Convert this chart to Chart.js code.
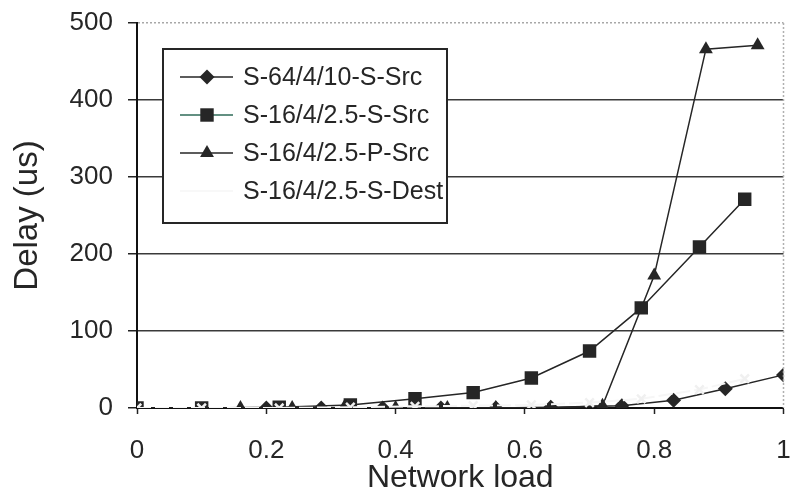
<!DOCTYPE html>
<html>
<head>
<meta charset="utf-8">
<script src="https://cdn.jsdelivr.net/npm/chart.js@4/dist/chart.umd.min.js"></script>
<style>
  html, body { margin: 0; padding: 0; background: #fff; }
  #wrap { width: 793px; height: 495px; }
</style>
</head>
<body>
<div id="wrap"><canvas id="delay-chart" width="793" height="495"></canvas></div>
<script>
// series names
const seriesNames = ["S-64/4/10-S-Src", "S-16/4/2.5-S-Src", "S-16/4/2.5-P-Src", "S-16/4/2.5-S-Dest"];

// network load (x) and delay in us (y)
const loadA = [0.2, 0.285, 0.38, 0.47, 0.555, 0.64, 0.75, 0.83, 0.91, 1.0];
const delayA = [0, 0, 0, 0, 0, 1, 3, 10, 25, 43];

const loadB = [0, 0.1, 0.22, 0.33, 0.43, 0.52, 0.61, 0.70, 0.78, 0.87, 0.94];
const delayB = [0, 0, 1, 4, 12, 20, 39, 74, 130, 209, 271];

const loadC = [0.16, 0.24, 0.32, 0.40, 0.48, 0.555, 0.64, 0.72, 0.80, 0.88, 0.96];
const delayC = [0, 0, 0, 0, 0, 0, 0, 3, 172, 466, 471];

const loadD = [0, 0.1, 0.22, 0.33, 0.43, 0.52, 0.61, 0.70, 0.78, 0.87, 0.94];
const delayD = [0, 0, 0, 1, 2, 3, 4, 7, 12, 24, 38];

// tick labels
const yTicks = [0, 100, 200, 300, 400, 500];
const xTicks = [0, 0.2, 0.4, 0.6, 0.8, 1];

function pts(xs, ys) {
  return xs.map(function (x, i) { return { x: x, y: ys[i] }; });
}

const ink = '#262626';
const font = 'Liberation Sans, Arial, sans-serif';

function drawMarker(ctx, style, r, x, y, color) {
  ctx.save();
  ctx.fillStyle = color;
  ctx.beginPath();
  if (style === 'rectRot') {
    ctx.moveTo(x, y - r); ctx.lineTo(x + r, y); ctx.lineTo(x, y + r); ctx.lineTo(x - r, y);
    ctx.closePath(); ctx.fill();
  } else if (style === 'rect') {
    const s = r * Math.SQRT1_2;
    ctx.rect(x - s, y - s, 2 * s, 2 * s); ctx.fill();
  } else if (style === 'triangle') {
    const h = r * 1.5;
    ctx.moveTo(x, y - h * 2 / 3); ctx.lineTo(x + r * 0.87, y + h / 3); ctx.lineTo(x - r * 0.87, y + h / 3);
    ctx.closePath(); ctx.fill();
  }
  ctx.restore();
}

// legend box drawn inside the plot, plus the dotted right frame
const boxLegend = {
  id: 'boxLegend',
  afterDraw(chart) {
    const ctx = chart.ctx;
    const area = chart.chartArea;
    ctx.save();
    ctx.strokeStyle = '#b0b0b0';
    ctx.lineWidth = 1.5;
    ctx.setLineDash([2, 2]);
    ctx.beginPath();
    ctx.moveTo(area.right, area.top);
    ctx.lineTo(area.right, area.bottom);
    ctx.stroke();
    ctx.setLineDash([]);

    const bx = 163, by = 49, bw = 284, bh = 174;
    ctx.fillStyle = '#fff';
    ctx.fillRect(bx, by, bw, bh);
    ctx.strokeStyle = ink;
    ctx.lineWidth = 2;
    ctx.strokeRect(bx, by, bw, bh);

    ctx.font = '25px ' + font;
    ctx.textBaseline = 'middle';
    chart.data.datasets.forEach(function (ds, i) {
      const y = 77 + 38 * i;
      ctx.strokeStyle = ds.legendLine || ds.borderColor;
      ctx.lineWidth = 1.5;
      ctx.beginPath();
      ctx.moveTo(180, y);
      ctx.lineTo(233, y);
      ctx.stroke();
      drawMarker(ctx, ds.pointStyle, ds.pointRadius, 207, y, ds.pointBackgroundColor);
      ctx.fillStyle = ink;
      ctx.fillText(ds.label, 243, y + 1);
    });
    ctx.restore();
  }
};

new Chart(document.getElementById('delay-chart'), {
  type: 'scatter',
  data: {
    datasets: [
      {
        label: seriesNames[0],
        data: pts(loadA, delayA),
        showLine: true,
        borderColor: ink,
        borderWidth: 1.5,
        pointStyle: 'rectRot',
        pointRadius: 7.5,
        pointBackgroundColor: ink,
        pointBorderColor: ink,
        pointBorderWidth: 0,
        order: 1
      },
      {
        label: seriesNames[1],
        data: pts(loadB, delayB),
        showLine: true,
        borderColor: ink,
        legendLine: '#2f6b58',
        borderWidth: 1.5,
        pointStyle: 'rect',
        pointRadius: 9.5,
        pointBackgroundColor: ink,
        pointBorderColor: ink,
        pointBorderWidth: 0,
        order: 1
      },
      {
        label: seriesNames[2],
        data: pts(loadC, delayC),
        showLine: true,
        borderColor: ink,
        borderWidth: 1.5,
        pointStyle: 'triangle',
        pointRadius: 8,
        pointBackgroundColor: ink,
        pointBorderColor: ink,
        pointBorderWidth: 0,
        order: 1
      },
      {
        label: seriesNames[3],
        data: pts(loadD, delayD),
        showLine: true,
        borderColor: '#f6f6f6',
        borderWidth: 2,
        borderDash: [14, 4],
        pointStyle: 'crossRot',
        pointRadius: 6,
        pointBackgroundColor: '#f6f6f6',
        pointBorderColor: '#f0f0f0',
        pointBorderWidth: 2.5,
        order: 0
      }
    ]
  },
  options: {
    responsive: false,
    animation: false,
    layout: { padding: { left: 0, top: 23, right: 6, bottom: 0 } },
    elements: { line: { tension: 0 } },
    plugins: {
      legend: { display: false },
      tooltip: { enabled: false }
    },
    scales: {
      x: {
        type: 'linear',
        min: 0,
        max: 1,
        afterFit(scale) {
          scale.height = 87;
          scale.paddingLeft = 0; scale.paddingRight = 0;
        },
        afterBuildTicks(scale) { scale.ticks = xTicks.map(function (v) { return { value: v }; }); },
        border: { display: true, color: '#111', width: 2 },
        grid: { display: true, drawOnChartArea: false, drawTicks: true, tickLength: 6, tickColor: '#222', tickWidth: 1.5 },
        ticks: {
          color: ink, font: { family: font, size: 26 }, padding: 21, maxRotation: 0,
          callback: function (v) { return String(Math.round(v * 10) / 10); }
        },
        title: { display: true, text: 'Network load', color: ink, font: { family: font, size: 32, lineHeight: 1 }, padding: { top: 0, bottom: 1 } }
      },
      y: {
        type: 'linear',
        min: 0,
        max: 500,
        afterFit(scale) {
          scale.width = 137;
          scale.paddingTop = 0; scale.paddingBottom = 0;
        },
        afterBuildTicks(scale) { scale.ticks = yTicks.map(function (v) { return { value: v }; }); },
        border: {
          display: true, color: '#111', width: 2,
          dash: function (c) { return c.tick && c.tick.value === 500 ? [2, 2] : []; }
        },
        grid: {
          color: function (c) {
            if (!c.tick) return '#444';
            if (c.tick.value === 0) return 'rgba(0,0,0,0)';
            return c.tick.value === 500 ? '#a8a8a8' : '#3a3a3a';
          },
          lineWidth: 1.5,
          tickLength: 9,
          tickColor: '#222',
          tickWidth: 1.5
        },
        ticks: { color: ink, font: { family: font, size: 26 }, padding: 15 },
        title: { display: true, text: 'Delay (us)', color: ink, font: { family: font, size: 33, lineHeight: 1 }, padding: { top: 11, bottom: 0 } }
      }
    }
  },
  plugins: [boxLegend]
});
</script>
</body>
</html>
